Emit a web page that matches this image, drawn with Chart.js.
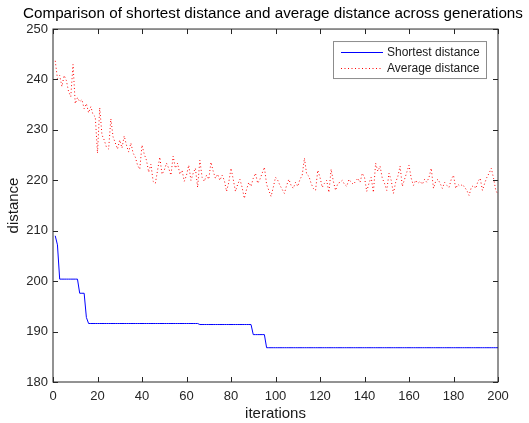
<!DOCTYPE html>
<html>
<head>
<meta charset="utf-8">
<script src="https://cdn.jsdelivr.net/npm/chart.js@4/dist/chart.umd.min.js"></script>
<style>
  html, body { margin: 0; padding: 0; background: #ffffff; }
  #wrap { width: 529px; height: 423px; }
</style>
</head>
<body>
<div id="wrap"><canvas id="c" width="529" height="423"></canvas></div>
<script>
const chartTitle = 'Comparison of shortest distance and average distance across generations';
const xAxisTitle = 'iterations';
const yAxisTitle = 'distance';
const seriesNames = ['Shortest distance', 'Average distance'];
const xTicks = [0, 20, 40, 60, 80, 100, 120, 140, 160, 180, 200];
const yTicks = [180, 190, 200, 210, 220, 230, 240, 250];

const shortestDistance = [
  209.0, 207.2, 200.4, 200.4, 200.4, 200.4, 200.4, 200.4, 200.4, 200.4,
  200.4, 197.6, 197.6, 197.6, 192.8, 191.6, 191.6, 191.6, 191.6, 191.6,
  191.6, 191.6, 191.6, 191.6, 191.6, 191.6, 191.6, 191.6, 191.6, 191.6,
  191.6, 191.6, 191.6, 191.6, 191.6, 191.6, 191.6, 191.6, 191.6, 191.6,
  191.6, 191.6, 191.6, 191.6, 191.6, 191.6, 191.6, 191.6, 191.6, 191.6,
  191.6, 191.6, 191.6, 191.6, 191.6, 191.6, 191.6, 191.6, 191.6, 191.6,
  191.6, 191.6, 191.6, 191.6, 191.6, 191.4, 191.4, 191.4, 191.4, 191.4,
  191.4, 191.4, 191.4, 191.4, 191.4, 191.4, 191.4, 191.4, 191.4, 191.4,
  191.4, 191.4, 191.4, 191.4, 191.4, 191.4, 191.4, 191.4, 191.4, 189.4,
  189.4, 189.4, 189.4, 189.4, 189.4, 186.8, 186.8, 186.8, 186.8, 186.8,
  186.8, 186.8, 186.8, 186.8, 186.8, 186.8, 186.8, 186.8, 186.8, 186.8,
  186.8, 186.8, 186.8, 186.8, 186.8, 186.8, 186.8, 186.8, 186.8, 186.8,
  186.8, 186.8, 186.8, 186.8, 186.8, 186.8, 186.8, 186.8, 186.8, 186.8,
  186.8, 186.8, 186.8, 186.8, 186.8, 186.8, 186.8, 186.8, 186.8, 186.8,
  186.8, 186.8, 186.8, 186.8, 186.8, 186.8, 186.8, 186.8, 186.8, 186.8,
  186.8, 186.8, 186.8, 186.8, 186.8, 186.8, 186.8, 186.8, 186.8, 186.8,
  186.8, 186.8, 186.8, 186.8, 186.8, 186.8, 186.8, 186.8, 186.8, 186.8,
  186.8, 186.8, 186.8, 186.8, 186.8, 186.8, 186.8, 186.8, 186.8, 186.8,
  186.8, 186.8, 186.8, 186.8, 186.8, 186.8, 186.8, 186.8, 186.8, 186.8,
  186.8, 186.8, 186.8, 186.8, 186.8, 186.8, 186.8, 186.8, 186.8, 186.8
];

const averageDistance = [
  243.7, 240.2, 240.8, 238.6, 240.8, 239.8, 237.6, 236.6, 243.0, 235.2,
  236.4, 235.6, 236.0, 234.2, 235.2, 233.4, 234.6, 233.0, 232.6, 225.4,
  234.4, 229.0, 228.0, 226.6, 226.2, 232.2, 228.6, 227.4, 226.2, 228.0,
  226.4, 228.8, 227.0, 225.6, 227.4, 225.4, 224.6, 223.0, 222.2, 227.0,
  225.2, 224.0, 221.6, 223.2, 219.8, 219.4, 222.0, 224.6, 221.2, 222.0,
  223.4, 222.4, 221.0, 224.8, 222.4, 223.4, 221.2, 222.0, 219.8, 221.0,
  223.0, 220.0, 221.4, 222.4, 218.6, 224.0, 220.6, 219.8, 221.0, 220.2,
  223.6, 221.8, 220.4, 221.2, 220.0, 221.0, 220.0, 217.8, 219.6, 222.4,
  220.2, 217.8, 219.2, 220.2, 218.6, 216.4, 218.2, 219.6, 218.8, 220.4,
  221.4, 219.4, 220.2, 221.4, 222.6, 219.2, 218.0, 216.8, 218.6, 220.6,
  220.0, 219.0, 218.2, 217.4, 219.0, 220.2, 219.0, 218.4, 219.6, 218.8,
  220.2, 221.0, 224.4, 221.2, 220.8, 219.4, 218.4, 218.0, 222.0, 220.6,
  218.6, 219.4, 220.0, 217.6, 222.2, 219.8, 218.0, 219.4, 219.6, 220.0,
  219.2, 218.8, 220.2, 219.6, 219.2, 219.8, 220.4, 219.6, 221.4, 220.6,
  217.8, 219.4, 220.6, 217.6, 223.4, 221.8, 222.8, 220.4, 219.4, 218.0,
  221.4, 220.0, 217.4, 219.6, 220.8, 222.8, 218.8, 220.2, 221.6, 223.0,
  220.4, 219.0, 220.0, 219.4, 219.8, 219.2, 220.2, 219.6, 220.6, 222.4,
  218.4, 219.8, 220.2, 219.4, 218.4, 219.6, 219.0, 218.6, 220.2, 221.0,
  218.4, 219.2, 218.8, 219.2, 218.6, 218.0, 217.0, 218.6, 219.0, 218.4,
  219.8, 220.4, 218.0, 219.4, 220.6, 221.4, 222.4, 220.4, 218.0, 217.2
];

const FONT = "'Liberation Sans', Arial, Helvetica, sans-serif";
const toPoints = arr => arr.map((v, i) => ({ x: i + 1, y: v }));

// MATLAB-style box with inward ticks on all four sides, plus boxed legend
const boxPlugin = {
  id: 'matlabBox',
  afterLayout(chart) {
    if (chart.titleBlock) {
      const cx = (chart.chartArea.left + chart.chartArea.right) / 2 - 2.5;
      chart.titleBlock.left = cx - 262;
      chart.titleBlock.right = cx + 262;
    }
  },
  afterDatasetsDraw(chart) {
    const { ctx, chartArea: a, scales } = chart;
    ctx.save();
    ctx.strokeStyle = '#262626';
    ctx.lineWidth = 1;
    ctx.strokeRect(a.left, a.top, a.right - a.left, a.bottom - a.top);
    const len = 5;
    ctx.beginPath();
    xTicks.forEach(v => {
      const p = Math.round(scales.x.getPixelForValue(v)) + 0.5;
      ctx.moveTo(p, a.bottom); ctx.lineTo(p, a.bottom - len);
      ctx.moveTo(p, a.top); ctx.lineTo(p, a.top + len);
    });
    yTicks.forEach(v => {
      const p = Math.round(scales.y.getPixelForValue(v)) + 0.5;
      ctx.moveTo(a.left, p); ctx.lineTo(a.left + len, p);
      ctx.moveTo(a.right, p); ctx.lineTo(a.right - len, p);
    });
    ctx.stroke();
    ctx.restore();
  },
  afterDraw(chart) {
    const { ctx, chartArea: a } = chart;
    const w = 153, h = 37;
    const left = a.right - 12 - w, top = a.top + 12;
    ctx.save();
    ctx.fillStyle = '#ffffff';
    ctx.fillRect(left, top, w, h);
    ctx.strokeStyle = '#8c8c8c';
    ctx.lineWidth = 1;
    ctx.strokeRect(left + 0.5, top + 0.5, w, h);
    chart.data.datasets.forEach((ds, i) => {
      const y = Math.round(top + 10.5 + i * 16.6) + 0.5;
      ctx.beginPath();
      ctx.strokeStyle = ds.borderColor;
      ctx.lineWidth = 1;
      ctx.setLineDash(ds.borderDash || []);
      ctx.moveTo(left + 8, y);
      ctx.lineTo(left + 50, y);
      ctx.stroke();
      ctx.setLineDash([]);
      ctx.fillStyle = '#1a1a1a';
      ctx.font = '12px ' + FONT;
      ctx.textBaseline = 'middle';
      ctx.textAlign = 'left';
      ctx.fillText(ds.label, left + 54, y);
    });
    ctx.restore();
  }
};

new Chart(document.getElementById('c'), {
  type: 'line',
  data: {
    datasets: [
      {
        label: seriesNames[0],
        data: toPoints(shortestDistance),
        borderColor: '#0000ff',
        borderWidth: 1,
        pointRadius: 0,
        tension: 0,
        fill: false
      },
      {
        label: seriesNames[1],
        data: toPoints(averageDistance),
        borderColor: '#ff0000',
        borderWidth: 1,
        borderDash: [1, 2.5],
        pointRadius: 0,
        tension: 0,
        fill: false
      }
    ]
  },
  options: {
    responsive: false,
    animation: false,
    devicePixelRatio: 1,
    layout: { padding: { left: 0, right: 31, top: 0, bottom: 0 } },
    plugins: {
      legend: { display: false },
      tooltip: { enabled: false },
      title: {
        display: true,
        text: chartTitle,
        color: '#000000',
        font: { family: FONT, size: 15.2, weight: 'normal', lineHeight: 1.2 },
        padding: { top: 5, bottom: 5.8 }
      }
    },
    scales: {
      x: {
        type: 'linear',
        min: 0, max: 200,
        afterBuildTicks(scale) { scale.ticks = xTicks.map(v => ({ value: v })); },
        afterFit(scale) { scale.height = 41; },
        grid: { display: false, drawTicks: false },
        border: { display: false },
        ticks: {
          color: '#262626', padding: 7, maxRotation: 0,
          font: { family: FONT, size: 13 }
        },
        title: {
          display: true, text: xAxisTitle, color: '#1a1a1a',
          font: { family: FONT, size: 15, lineHeight: 1.2 },
          padding: { top: 0, bottom: 0 }
        }
      },
      y: {
        type: 'linear',
        min: 180, max: 250,
        afterBuildTicks(scale) { scale.ticks = yTicks.map(v => ({ value: v })); },
        afterFit(scale) { scale.width = 53; },
        grid: { display: false, drawTicks: false },
        border: { display: false },
        ticks: {
          color: '#262626', padding: 5,
          font: { family: FONT, size: 13 }
        },
        title: {
          display: true, text: yAxisTitle, color: '#1a1a1a',
          font: { family: FONT, size: 15, lineHeight: 1.2 },
          padding: { top: 5, bottom: 0 }
        }
      }
    }
  },
  plugins: [boxPlugin]
});
</script>
</body>
</html>
